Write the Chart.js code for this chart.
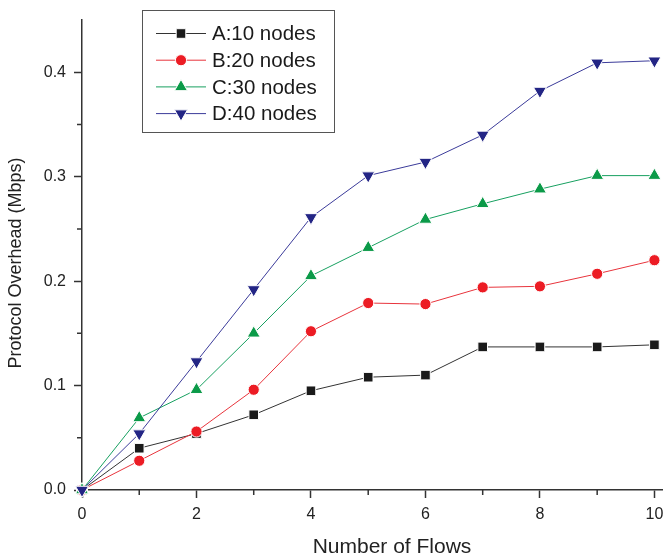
<!DOCTYPE html>
<html>
<head>
<meta charset="utf-8">
<script src="https://cdn.jsdelivr.net/npm/chart.js@4"></script>
<style>
  html, body { margin: 0; padding: 0; background: #fff; }
  #wrap { width: 663px; height: 556px; }
</style>
</head>
<body>
<div id="wrap"><canvas id="myChart" width="663" height="556"></canvas></div>
<script>
// flows on the x axis
const flows = [0, 1, 2, 3, 4, 5, 6, 7, 8, 9, 10];

// protocol overhead (Mbps)
const nodes10 = [0, 0.040, 0.054, 0.072, 0.095, 0.108, 0.110, 0.137, 0.137, 0.137, 0.139];
const nodes20 = [0, 0.028, 0.056, 0.096, 0.152, 0.179, 0.178, 0.194, 0.195, 0.207, 0.220];
const nodes30 = [0, 0.069, 0.096, 0.150, 0.205, 0.232, 0.259, 0.274, 0.288, 0.301, 0.301];
const nodes40 = [0, 0.054, 0.123, 0.192, 0.261, 0.301, 0.314, 0.340, 0.382, 0.409, 0.411];

const seriesLabels = ['A:10 nodes', 'B:20 nodes', 'C:30 nodes', 'D:40 nodes'];

const xTickValues = [0, 1, 2, 3, 4, 5, 6, 7, 8, 9, 10];
const yTickValues = [0, 0.05, 0.1, 0.15, 0.2, 0.25, 0.3, 0.35, 0.4];

const xTitle = 'Number of Flows';
const yTitle = 'Protocol Overhead (Mbps)';

const FONT = '"Liberation Sans", Arial, Helvetica, sans-serif';
Chart.defaults.font.family = FONT;
Chart.defaults.color = '#222';

function toPoints(values) {
    return flows.map((f, i) => ({ x: f, y: values[i] }));
}

function isMajorY(v) {
    return Math.abs(Math.round(v * 10) - v * 10) < 1e-6;
}

// box legend in the upper left, like the original figure
const boxLegend = {
    id: 'boxLegend',
    afterDraw(chart) {
        const ctx = chart.ctx;
        ctx.save();
        ctx.strokeStyle = '#555';
        ctx.lineWidth = 1;
        ctx.strokeRect(142.5, 10.5, 192, 122);
        chart.data.datasets.forEach((ds, i) => {
            const y = 33.5 + i * 26.7;
            ctx.strokeStyle = ds.borderColor;
            ctx.lineWidth = 1;
            ctx.beginPath();
            ctx.moveTo(156, y);
            ctx.lineTo(206, y);
            ctx.stroke();
            ctx.fillStyle = ds.pointBackgroundColor;
            ctx.strokeStyle = '#fff';
            Chart.helpers.drawPoint(ctx, {
                pointStyle: ds.pointStyle,
                radius: ds.pointRadius,
                rotation: ds.pointRotation || 0,
                borderWidth: 1
            }, 181, y);
            ctx.fillStyle = '#1a1a1a';
            ctx.font = '20.5px ' + FONT;
            ctx.textBaseline = 'middle';
            ctx.textAlign = 'left';
            ctx.fillText(ds.label, 212, y + 1);
        });
        ctx.restore();
    }
};

// short minor ticks at odd flows and at the 0.05 steps, plus the axis titles
const axisExtras = {
    id: 'axisExtras',
    afterDraw(chart) {
        const ctx = chart.ctx;
        const xs = chart.scales.x, ys = chart.scales.y;
        ctx.save();
        ctx.strokeStyle = '#333';
        ctx.lineWidth = 1.5;
        ctx.beginPath();
        xTickValues.filter(v => v % 2 === 1).forEach(v => {
            const px = xs.getPixelForValue(v);
            ctx.moveTo(px, ys.bottom);
            ctx.lineTo(px, ys.bottom + 5);
        });
        yTickValues.filter(v => !isMajorY(v)).forEach(v => {
            const py = ys.getPixelForValue(v);
            ctx.moveTo(xs.left - 5, py);
            ctx.lineTo(xs.left, py);
        });
        ctx.stroke();

        ctx.fillStyle = '#222';
        ctx.textAlign = 'center';
        ctx.textBaseline = 'alphabetic';
        ctx.font = '21px ' + FONT;
        ctx.fillText(xTitle, 392, 553);

        ctx.translate(16, 263);
        ctx.rotate(-Math.PI / 2);
        ctx.textBaseline = 'middle';
        ctx.font = '18px ' + FONT;
        ctx.fillText(yTitle, 0, 0);
        ctx.restore();
    }
};

const ctx = document.getElementById('myChart').getContext('2d');
const myChart = new Chart(ctx, {
    type: 'line',
    data: {
        datasets: [
            {
                label: seriesLabels[0],
                data: toPoints(nodes10),
                borderColor: '#333333',
                pointBackgroundColor: '#1a1a1a',
                pointStyle: 'rect',
                pointRadius: 6.8,
                order: 3
            },
            {
                label: seriesLabels[1],
                data: toPoints(nodes20),
                borderColor: '#e8343c',
                pointBackgroundColor: '#ec1c24',
                pointStyle: 'circle',
                pointRadius: 5.6,
                order: 2
            },
            {
                label: seriesLabels[2],
                data: toPoints(nodes30),
                borderColor: '#17a060',
                pointBackgroundColor: '#0b9a48',
                pointStyle: 'triangle',
                pointRadius: 7.5,
                order: 1
            },
            {
                label: seriesLabels[3],
                data: toPoints(nodes40),
                borderColor: '#3b3b9a',
                pointBackgroundColor: '#232585',
                pointStyle: 'triangle',
                pointRotation: 180,
                pointRadius: 7.5,
                order: 0
            }
        ]
    },
    options: {
        responsive: false,
        animation: false,
        clip: false,
        datasets: {
            line: {
                borderWidth: 1,
                tension: 0,
                pointBorderColor: '#ffffff',
                pointBorderWidth: 1
            }
        },
        layout: {
            autoPadding: false,
            padding: { top: 20, right: 0, left: 0, bottom: 0 }
        },
        plugins: {
            legend: { display: false },
            tooltip: { enabled: false }
        },
        scales: {
            x: {
                type: 'linear',
                min: 0,
                max: 10.15,
                afterBuildTicks(scale) {
                    scale.ticks = xTickValues.map(v => ({ value: v }));
                },
                afterFit(scale) {
                    scale.height = 66;
                    // let the "10" run off the edge as in the figure
                    scale.paddingLeft = 0;
                    scale.paddingRight = 0;
                },
                border: { display: true, color: '#333', width: 1.5 },
                grid: {
                    drawOnChartArea: false,
                    drawTicks: true,
                    tickLength: 8,
                    tickWidth: 1.5,
                    tickColor: c => (c.tick && c.tick.value % 2 === 0) ? '#333' : 'rgba(0,0,0,0)'
                },
                ticks: {
                    autoSkip: false,
                    maxRotation: 0,
                    padding: 7,
                    font: { size: 16 },
                    color: '#222',
                    callback: v => (v % 2 === 0 ? String(v) : '')
                }
            },
            y: {
                type: 'linear',
                min: 0,
                max: 0.45,
                afterBuildTicks(scale) {
                    scale.ticks = yTickValues.map(v => ({ value: v }));
                },
                afterFit(scale) { scale.width = 82; },
                border: { display: true, color: '#333', width: 1.5 },
                grid: {
                    drawOnChartArea: false,
                    drawTicks: true,
                    tickLength: 8,
                    tickWidth: 1.5,
                    tickColor: c => (c.tick && isMajorY(c.tick.value)) ? '#333' : 'rgba(0,0,0,0)'
                },
                ticks: {
                    autoSkip: false,
                    padding: 8,
                    font: { size: 16 },
                    color: '#222',
                    callback: v => (isMajorY(v) ? v.toFixed(1) : '')
                }
            }
        }
    },
    plugins: [axisExtras, boxLegend]
});
</script>
</body>
</html>
